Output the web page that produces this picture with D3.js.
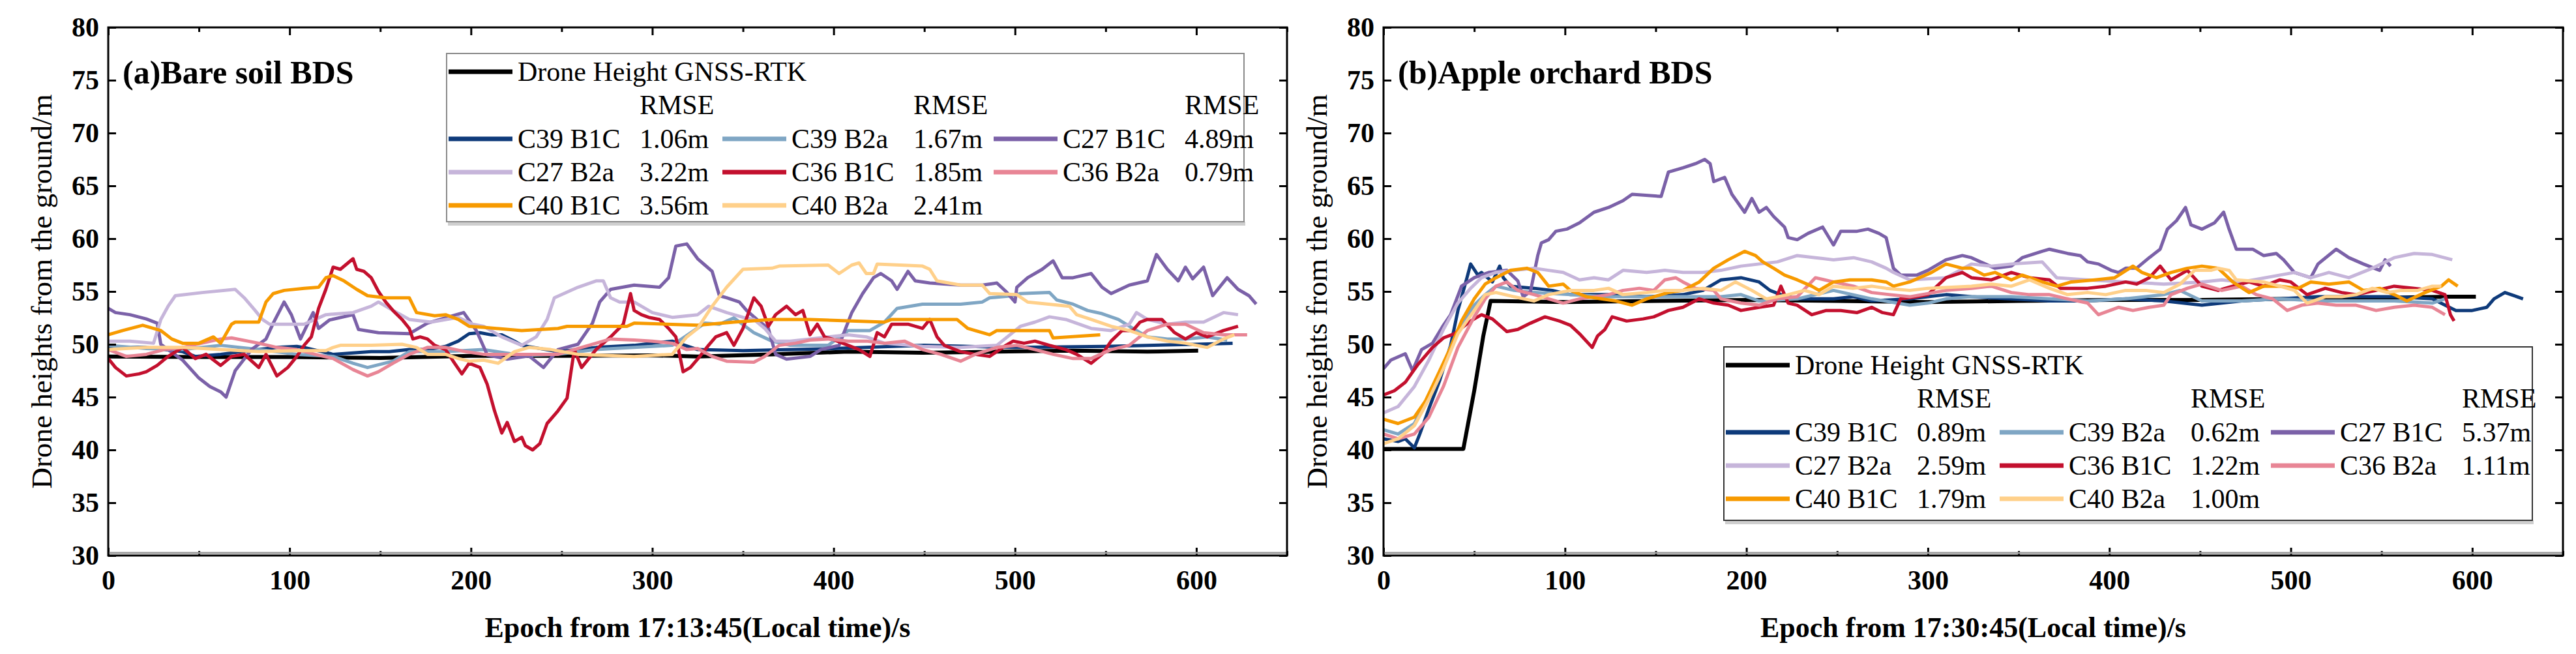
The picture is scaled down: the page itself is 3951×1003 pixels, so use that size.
<!DOCTYPE html>
<html>
<head>
<meta charset="utf-8">
<script src="https://cdn.jsdelivr.net/npm/d3@7"></script>
<style>
  html, body { margin: 0; padding: 0; background: #fff; }
  svg { display: block; }
  text { font-family: "Liberation Serif", "Times New Roman", serif; }
</style>
</head>
<body>
<div id="chart"></div>
<script>
// -------------------------------
// Data
// -------------------------------
const seriesNames = ['C39 B1C', 'C39 B2a', 'C27 B1C', 'C27 B2a', 'C36 B1C', 'C36 B2a', 'C40 B1C', 'C40 B2a'];
const droneName = 'Drone Height GNSS-RTK';
const soilRmse = ['1.06m', '1.67m', '4.89m', '3.22m', '1.85m', '0.79m', '3.56m', '2.41m'];
const orchardRmse = ['0.89m', '0.62m', '5.37m', '2.59m', '1.22m', '1.11m', '1.79m', '1.00m'];
const xTicks = [0, 100, 200, 300, 400, 500, 600];
const xMinorTicks = [50, 150, 250, 350, 450, 550, 650];
const yTicks = [30, 35, 40, 45, 50, 55, 60, 65, 70, 75, 80];

// (a) Bare soil: [epoch, height]
const soilDrone = [[0,48.85],[50,48.8],[100,48.8],[150,48.7],[200,48.9],[250,48.9],[300,48.95],[325,48.85],[366,49.05],[408,49.3],[449,49.2],[490,49.3],[532,49.4],[573,49.3],[601,49.4]];
const soilC39B1C = [[0,49.6],[10,49.7],[21,49.7],[41,49.3],[48,48.85],[62,49.05],[83,49.5],[93,49.7],[104,49.8],[108,49.7],[124,49.05],[145,49.3],[155,49.3],[166,49.5],[176,49.5],[186,49.8],[193,50.3],[199,51.0],[205,51.1],[211,50.9],[217,50.9],[224,50.3],[228,49.9],[248,49.3],[269,49.7],[290,49.9],[311,50.3],[325,49.5],[350,49.4],[400,49.6],[450,49.9],[500,49.7],[550,49.8],[600,50.0],[620,50.1]];
const soilC39B2a = [[0,49.9],[21,49.6],[41,49.5],[62,49.9],[83,49.5],[104,49.05],[124,48.85],[135,48.2],[143,47.8],[157,48.4],[166,49.3],[186,49.3],[207,49.5],[228,48.95],[248,49.05],[269,49.5],[290,49.7],[311,49.9],[329,52.0],[337,51.9],[345,52.5],[356,51.1],[366,50.3],[376,49.9],[397,49.9],[408,51.3],[420,51.3],[428,52.1],[435,53.4],[449,53.8],[470,53.8],[482,54.0],[486,54.4],[499,54.6],[503,54.8],[519,54.9],[523,54.2],[532,53.8],[540,53.2],[548,52.9],[557,52.35],[565,51.5],[573,50.7],[584,50.5],[594,50.5],[606,50.7],[617,50.4]];
const soilC27B1C = [[0,53.4],[4,53.0],[12,52.8],[21,52.4],[27,52.0],[29,50.0],[41,48.5],[50,46.8],[56,46.0],[62,45.5],[65,45.0],[70,47.5],[79,49.5],[87,50.5],[91,52.0],[97,54.0],[101,52.8],[106,50.5],[113,53.0],[116,51.5],[122,52.3],[135,52.8],[138,51.4],[149,51.1],[166,51.0],[176,52.0],[186,52.5],[196,53.0],[203,51.3],[209,49.0],[220,48.6],[232,48.9],[240,47.8],[248,49.5],[259,50.0],[267,52.0],[271,54.0],[277,55.2],[290,55.6],[304,55.4],[309,56.3],[313,59.3],[319,59.5],[325,58.1],[329,57.5],[333,56.9],[337,54.6],[341,54.4],[348,54.0],[352,53.2],[358,52.3],[364,51.5],[368,49.05],[374,48.6],[387,48.85],[393,49.5],[403,49.9],[410,53.0],[416,54.8],[422,56.3],[426,56.7],[432,56.0],[435,55.2],[441,56.9],[445,56.0],[453,55.8],[470,55.6],[482,55.6],[490,55.8],[495,55.0],[500,54.0],[501,55.4],[507,56.3],[515,57.1],[521,57.9],[526,56.3],[532,56.3],[542,56.7],[548,55.4],[553,54.8],[563,55.6],[573,56.0],[578,58.5],[584,57.1],[590,56.0],[594,57.3],[598,56.2],[604,57.3],[609,54.6],[617,56.3],[623,55.2],[629,54.6],[633,53.8]];
const soilC27B2a = [[0,50.3],[12,50.3],[25,50.1],[29,52.35],[33,53.6],[37,54.6],[52,54.9],[70,55.2],[75,54.4],[81,53.2],[85,52.35],[89,51.9],[108,51.9],[120,52.8],[135,53.0],[145,53.6],[149,54.0],[155,53.4],[166,52.35],[178,52.1],[193,52.55],[201,51.9],[207,51.7],[217,50.7],[228,49.9],[236,50.7],[242,52.35],[246,54.4],[259,55.4],[269,56.0],[273,56.0],[277,54.4],[282,54.0],[290,54.0],[300,53.0],[311,52.55],[325,52.8],[331,53.6],[341,53.0],[350,52.55],[356,52.35],[362,51.5],[368,50.3],[376,50.3],[387,50.5],[397,50.7],[408,50.9],[418,50.7],[428,50.1],[449,49.8],[470,49.7],[490,49.9],[503,51.7],[511,52.1],[519,52.6],[528,52.35],[542,51.5],[553,51.3],[563,51.9],[567,53.0],[573,52.35],[584,51.9],[594,52.1],[604,52.1],[615,53.0],[623,52.8]];
const soilC36B1C = [[0,48.65],[4,47.8],[10,47.0],[17,47.2],[21,47.4],[27,48.0],[33,48.85],[41,49.7],[48,48.65],[54,49.05],[62,48.0],[68,48.85],[75,49.05],[83,47.8],[87,49.05],[93,47.0],[99,47.8],[104,48.85],[108,49.9],[112,50.7],[116,53.4],[120,55.2],[124,57.3],[128,57.1],[135,58.1],[137,57.1],[141,56.9],[145,56.3],[149,55.0],[153,54.0],[157,53.2],[162,52.35],[166,51.5],[168,50.5],[172,50.7],[176,50.5],[180,49.9],[186,49.5],[191,48.2],[195,47.2],[199,48.2],[205,47.8],[209,46.2],[213,43.7],[217,41.6],[220,42.6],[224,40.8],[228,41.2],[230,40.4],[234,40.0],[238,40.6],[242,42.5],[248,43.7],[253,44.9],[257,49.5],[261,47.8],[265,48.65],[269,49.5],[277,50.7],[284,51.9],[288,54.8],[290,53.2],[294,52.8],[298,52.55],[304,52.35],[309,51.5],[313,50.7],[317,47.4],[321,47.8],[325,48.6],[331,49.9],[335,50.7],[341,51.1],[345,49.9],[350,51.5],[356,54.4],[360,53.6],[364,51.7],[368,52.8],[374,53.6],[379,52.8],[383,53.2],[387,50.9],[391,51.9],[395,50.7],[399,50.5],[408,49.9],[414,49.5],[420,48.85],[424,51.1],[428,50.7],[432,51.9],[441,51.9],[449,51.5],[453,52.35],[457,50.7],[461,49.9],[470,49.3],[478,49.05],[486,48.85],[495,49.9],[499,50.3],[505,50.1],[511,50.3],[519,49.9],[528,49.5],[534,49.05],[542,48.2],[548,49.05],[553,50.3],[559,51.3],[565,51.3],[569,52.1],[573,52.35],[581,52.35],[588,51.1],[594,50.5],[600,51.1],[606,50.7],[615,51.3],[623,51.7]];
const soilC36B2a = [[0,49.5],[10,48.85],[21,49.05],[31,49.5],[41,49.7],[62,50.5],[68,50.6],[83,50.1],[93,49.7],[104,49.5],[114,49.05],[124,48.65],[135,47.6],[143,47.0],[149,47.4],[157,48.2],[166,49.05],[176,49.7],[186,49.7],[197,49.3],[207,49.05],[228,49.05],[248,49.05],[265,49.9],[277,50.5],[290,50.4],[300,50.3],[311,50.1],[319,49.5],[325,49.6],[333,48.85],[341,48.4],[356,48.3],[362,48.85],[370,49.9],[379,50.1],[387,50.4],[397,50.5],[408,50.3],[418,50.3],[428,50.1],[439,50.3],[449,49.5],[459,49.05],[470,48.4],[478,49.05],[490,49.7],[501,49.9],[511,49.5],[521,49.05],[532,48.65],[542,48.65],[553,49.5],[563,49.9],[573,51.3],[584,51.9],[594,51.9],[604,51.1],[615,50.9],[628,50.9]];
const soilC40B1C = [[0,50.9],[8,51.3],[19,51.8],[29,51.3],[35,50.5],[41,50.1],[50,50.1],[58,50.7],[62,50.1],[68,51.9],[70,52.1],[83,52.1],[87,54.0],[91,54.8],[97,55.1],[108,55.3],[116,55.4],[120,56.3],[124,56.5],[130,56.0],[137,55.2],[143,54.6],[153,54.4],[166,54.4],[170,53.0],[180,52.7],[186,52.8],[193,52.35],[199,51.7],[207,51.6],[228,51.3],[248,51.5],[253,51.7],[269,51.7],[286,51.7],[290,52.0],[325,51.8],[345,52.1],[366,52.35],[387,52.35],[428,52.1],[432,52.35],[468,52.35],[474,51.5],[486,50.9],[490,51.3],[519,51.3],[521,50.6],[547,50.9]];
const soilC40B2a = [[0,49.5],[21,49.7],[41,49.7],[62,49.5],[83,49.3],[104,49.4],[120,49.4],[124,49.7],[128,49.9],[145,49.9],[162,50.0],[170,49.7],[176,49.05],[186,49.05],[193,48.65],[199,48.4],[207,48.5],[215,48.2],[224,49.3],[232,49.7],[244,49.5],[259,49.05],[290,48.85],[311,49.05],[319,50.7],[325,51.5],[333,53.6],[341,55.4],[350,57.1],[366,57.2],[370,57.4],[397,57.5],[403,56.7],[410,57.5],[414,57.7],[418,56.7],[422,56.7],[424,57.6],[449,57.4],[453,57.1],[457,56.0],[470,55.6],[482,55.6],[486,54.8],[501,54.7],[507,54.0],[530,53.6],[534,52.8],[542,52.35],[553,51.7],[563,51.3],[573,50.7],[584,50.3],[594,50.1],[606,49.7],[615,50.5],[621,50.9]];

// (b) Apple orchard: [epoch, height]
const orchardDrone = [[0,40.1],[44,40.1],[50,45.6],[55,50.8],[59,54.1],[100,54.0],[150,54.1],[200,54.2],[250,54.1],[300,54.0],[350,54.1],[400,54.2],[450,54.2],[500,54.3],[550,54.4],[587,54.5],[602,54.5]];
const orchardC39B1C = [[0,41.05],[8,40.8],[12,41.05],[17,40.2],[20,41.5],[25,43.9],[31,46.6],[37,49.9],[41,53.2],[46,56.3],[48,57.6],[52,56.55],[54,56.8],[60,55.9],[64,57.4],[66,56.3],[70,55.5],[83,55.3],[93,55.1],[103,54.7],[124,54.7],[145,54.5],[165,54.7],[176,55.1],[186,56.1],[197,56.3],[207,55.9],[213,55.1],[219,54.7],[228,54.3],[248,54.3],[259,54.5],[269,54.1],[290,54.3],[310,54.7],[324,54.5],[367,54.1],[388,54.1],[409,54.3],[430,54.1],[451,53.7],[473,54.1],[494,54.3],[515,54.5],[536,54.5],[557,54.5],[578,54.3],[591,53.2],[600,53.2],[608,53.5],[612,54.3],[618,54.9],[623,54.6],[628,54.3]];
const orchardC39B2a = [[0,41.9],[8,41.5],[17,42.5],[25,45.2],[33,48.1],[41,51.4],[50,53.7],[56,54.7],[62,55.5],[72,55.1],[83,54.9],[103,54.7],[124,54.5],[145,54.5],[165,54.5],[186,54.5],[197,54.7],[207,54.1],[228,54.3],[248,55.1],[269,54.3],[290,53.7],[300,53.9],[310,54.3],[324,54.5],[346,54.5],[367,54.3],[388,54.1],[409,54.3],[430,54.7],[439,55.1],[451,54.1],[473,54.1],[494,54.3],[515,54.1],[536,54.1],[557,54.1],[578,53.9],[585,54.3]];
const orchardC27B1C = [[0,47.7],[4,48.5],[12,49.1],[16,47.5],[21,49.5],[27,50.1],[33,51.8],[37,52.8],[43,55.5],[50,56.3],[58,56.8],[68,57.0],[74,56.0],[77,54.5],[81,55.0],[85,58.4],[87,59.6],[91,59.9],[95,60.7],[101,60.9],[108,61.5],[116,62.5],[124,62.95],[132,63.6],[137,64.2],[153,64.0],[157,66.3],[165,66.7],[172,67.1],[177,67.5],[180,67.1],[182,65.4],[188,65.8],[192,64.2],[199,62.5],[203,63.8],[207,62.5],[211,62.95],[215,62.1],[221,61.1],[223,60.1],[228,59.9],[234,60.5],[242,61.1],[248,59.4],[252,60.7],[261,60.7],[267,60.9],[273,60.5],[277,60.1],[281,57.2],[285,56.55],[294,56.55],[300,57.0],[310,58.0],[319,58.4],[324,58.2],[329,57.8],[337,57.2],[346,57.4],[352,58.2],[363,58.8],[367,59.0],[377,58.6],[384,58.4],[388,57.8],[394,57.6],[401,57.0],[405,56.8],[409,57.2],[415,57.2],[422,58.2],[428,59.0],[432,60.9],[437,61.7],[442,62.95],[445,61.3],[451,60.9],[458,61.5],[463,62.5],[466,60.9],[470,59.0],[479,59.0],[485,58.4],[492,58.6],[496,58.0],[502,56.8],[511,56.3],[515,57.6],[525,59.0],[532,58.2],[540,57.6],[549,57.0],[552,58.0],[555,57.4]];
const orchardC27B2a = [[0,43.5],[8,44.1],[17,46.0],[25,48.5],[33,51.4],[41,53.9],[48,55.3],[54,56.3],[62,56.8],[83,57.2],[91,57.0],[99,56.8],[108,56.1],[116,56.3],[124,56.1],[132,57.0],[145,56.8],[155,57.0],[165,56.8],[176,56.8],[186,57.0],[197,57.4],[207,57.6],[217,57.8],[228,58.4],[238,58.2],[248,58.0],[259,58.2],[269,57.8],[277,57.2],[281,56.8],[290,56.1],[310,56.3],[324,57.6],[335,57.4],[346,57.6],[363,57.8],[371,56.3],[388,56.1],[409,55.9],[430,55.7],[451,55.9],[462,56.1],[473,55.9],[494,56.55],[502,56.8],[511,56.3],[521,56.8],[532,56.3],[545,57.2],[557,58.2],[568,58.6],[578,58.5],[589,58.0]];
const orchardC36B1C = [[0,45.2],[6,45.6],[12,46.4],[19,48.1],[27,49.7],[33,50.6],[39,51.0],[48,52.2],[54,52.8],[60,52.4],[64,51.8],[68,51.2],[74,51.4],[81,52.0],[89,52.6],[97,52.2],[103,51.8],[108,51.0],[115,49.7],[118,50.8],[122,51.4],[126,52.6],[134,52.2],[143,52.4],[149,52.6],[157,53.2],[165,53.5],[174,54.3],[182,53.9],[190,53.7],[197,53.2],[207,53.5],[215,53.7],[219,55.5],[223,53.9],[228,53.7],[236,52.8],[244,53.2],[252,53.2],[261,53.0],[269,53.5],[275,53.0],[281,52.8],[285,54.3],[294,54.5],[300,54.7],[310,56.3],[319,56.8],[324,56.3],[335,56.1],[346,56.8],[356,56.3],[367,56.1],[373,55.3],[388,55.3],[398,55.5],[409,55.9],[415,55.7],[422,56.3],[428,57.4],[434,56.1],[443,57.0],[451,55.5],[460,55.1],[468,55.5],[477,55.9],[485,55.5],[494,56.1],[500,55.9],[509,54.7],[519,55.3],[528,54.9],[536,54.7],[547,55.1],[557,55.5],[568,55.3],[578,55.1],[585,54.7],[588,52.8],[590,52.2]];
const orchardC36B2a = [[0,41.5],[8,41.05],[17,41.5],[25,43.1],[33,46.0],[41,49.7],[50,52.6],[56,54.3],[62,55.5],[68,55.9],[74,55.1],[83,54.7],[91,54.3],[99,53.9],[108,54.3],[116,54.5],[124,54.7],[132,55.1],[141,55.3],[149,55.1],[155,56.1],[161,56.3],[165,55.9],[172,55.3],[182,55.1],[186,54.3],[197,53.9],[207,53.7],[217,54.3],[228,54.5],[238,56.3],[248,55.9],[259,55.5],[269,54.9],[279,54.7],[290,54.5],[310,55.1],[324,55.3],[335,55.5],[346,54.9],[356,54.7],[367,54.7],[377,54.3],[388,53.9],[394,52.8],[405,53.5],[413,53.2],[422,53.5],[430,53.7],[434,54.7],[443,55.3],[451,55.7],[462,55.1],[473,55.5],[481,54.7],[490,54.3],[498,53.2],[506,53.7],[515,53.9],[525,53.7],[536,53.7],[547,53.2],[557,53.5],[568,53.7],[578,53.5],[585,52.8]];
const orchardC40B1C = [[0,42.9],[8,42.5],[17,43.1],[23,44.6],[31,47.5],[37,49.7],[43,52.2],[50,54.3],[56,55.7],[62,56.3],[70,57.0],[79,57.2],[85,56.8],[91,55.5],[99,55.7],[103,55.1],[112,54.5],[120,54.3],[128,54.1],[137,53.7],[145,54.3],[157,54.9],[165,55.1],[174,55.9],[182,57.2],[190,58.0],[199,58.8],[205,58.4],[209,57.8],[215,57.2],[221,56.55],[228,56.1],[236,55.5],[240,55.1],[248,55.9],[257,56.1],[269,56.1],[277,55.9],[281,55.5],[290,55.9],[302,56.8],[310,57.6],[319,57.2],[324,57.2],[331,56.55],[337,56.8],[346,56.1],[352,56.55],[363,55.9],[371,55.5],[379,55.9],[392,56.1],[403,56.3],[413,57.4],[418,56.8],[426,56.3],[434,56.8],[443,57.2],[451,57.4],[460,57.2],[468,55.9],[477,54.9],[485,55.5],[494,55.5],[504,55.3],[511,55.9],[521,55.7],[532,55.9],[540,55.1],[549,55.3],[557,54.7],[564,54.1],[574,54.9],[583,55.5],[587,56.1],[592,55.5]];
const orchardC40B2a = [[0,40.6],[8,41.05],[17,42.3],[25,44.8],[33,47.7],[41,51.0],[50,53.2],[56,54.7],[62,54.9],[72,54.5],[83,54.1],[91,54.7],[103,55.1],[116,55.1],[124,55.3],[132,54.7],[145,54.9],[155,55.1],[165,55.1],[176,55.3],[186,55.1],[194,55.9],[203,55.1],[211,54.3],[223,54.7],[232,55.1],[240,54.7],[248,55.5],[259,55.3],[269,55.5],[277,55.3],[290,55.1],[300,55.3],[324,55.5],[335,55.7],[346,55.5],[356,56.1],[367,55.3],[377,54.7],[388,54.9],[398,54.7],[409,55.1],[420,55.1],[430,54.9],[439,55.7],[447,57.0],[456,57.0],[460,57.2],[466,57.0],[470,56.1],[485,55.9],[494,55.5],[502,55.1],[509,53.9],[519,54.5],[528,54.5],[536,54.7],[545,55.3],[553,54.9],[561,55.1],[570,55.1],[578,55.5],[583,55.5]];

// -------------------------------
// Styles
// -------------------------------
const seriesColors = ['#0e3a7a', '#7fa6c4', '#7b61a8', '#c6b5da', '#c3102e', '#e88595', '#f79a00', '#ffd08a'];
const W = 3951, H = 1003;
const plotTop = 42, plotBottom = 852;

const panels = [
  {
    left: 166, right: 1974, title: '(a)Bare soil BDS', xTitle: 'Epoch from 17:13:45(Local time)/s',
    drone: soilDrone,
    series: [soilC39B1C, soilC39B2a, soilC27B1C, soilC27B2a, soilC36B1C, soilC36B2a, soilC40B1C, soilC40B2a],
    rmse: soilRmse,
    legend: { x: 685, y: 82, w: 1223, h: 258, border: '#8a8a8a' }
  },
  {
    left: 2122, right: 3931, title: '(b)Apple orchard BDS', xTitle: 'Epoch from 17:30:45(Local time)/s',
    drone: orchardDrone,
    series: [orchardC39B1C, orchardC39B2a, orchardC27B1C, orchardC27B2a, orchardC36B1C, orchardC36B2a, orchardC40B1C, orchardC40B2a],
    rmse: orchardRmse,
    legend: { x: 2644, y: 532, w: 1240, h: 266, border: '#333' }
  }
];

const svg = d3.select('#chart').append('svg')
  .attr('width', W)
  .attr('height', H);

panels.forEach((p, pi) => {
  const x = d3.scaleLinear().domain([0, 650]).range([p.left, p.right]);
  const y = d3.scaleLinear().domain([30, 80]).range([plotBottom, plotTop]);
  const g = svg.append('g');

  const clipId = 'clip' + pi;
  svg.append('clipPath').attr('id', clipId)
    .append('rect')
      .attr('x', p.left).attr('y', plotTop)
      .attr('width', p.right - p.left).attr('height', plotBottom - plotTop);

  // --------------------
  // Lines
  // --------------------
  const line = d3.line().x(d => x(d[0])).y(d => y(d[1]));
  const lines = g.append('g').attr('clip-path', `url(#${clipId})`);

  lines.append('path')
    .datum(p.drone)
    .attr('d', line)
    .attr('fill', 'none')
    .attr('stroke', '#000')
    .attr('stroke-width', 6)
    .attr('stroke-linejoin', 'round');

  p.series.forEach((s, i) => {
    lines.append('path')
      .datum(s)
      .attr('d', line)
      .attr('fill', 'none')
      .attr('stroke', seriesColors[i])
      .attr('stroke-width', 5)
      .attr('stroke-linejoin', 'round');
  });

  // --------------------
  // Axes (ticks inside)
  // --------------------
  const tickFont = g2 => g2.selectAll('text')
    .style('font-family', '"Liberation Serif", serif')
    .style('font-size', '42px')
    .style('font-weight', 'bold')
    .attr('fill', '#000');

  const xAxis = g.append('g')
    .attr('transform', `translate(0,${plotBottom})`)
    .call(d3.axisBottom(x).tickValues(xTicks).tickSize(-12).tickPadding(22).tickFormat(d3.format('d')));
  xAxis.call(tickFont);
  xAxis.select('.domain').remove();
  xAxis.selectAll('line').attr('stroke-width', 3);

  g.append('g')
    .attr('transform', `translate(0,${plotBottom})`)
    .call(d3.axisBottom(x).tickValues(xMinorTicks).tickSize(-7).tickFormat(''))
    .call(a => a.select('.domain').remove())
    .selectAll('line').attr('stroke-width', 3);

  g.append('g')
    .attr('transform', `translate(0,${plotTop})`)
    .call(d3.axisTop(x).tickValues(xTicks).tickSize(-12).tickFormat(''))
    .call(a => a.select('.domain').remove())
    .selectAll('line').attr('stroke-width', 3);

  g.append('g')
    .attr('transform', `translate(0,${plotTop})`)
    .call(d3.axisTop(x).tickValues(xMinorTicks).tickSize(-7).tickFormat(''))
    .call(a => a.select('.domain').remove())
    .selectAll('line').attr('stroke-width', 3);

  const yAxis = g.append('g')
    .attr('transform', `translate(${p.left},0)`)
    .call(d3.axisLeft(y).tickValues(yTicks).tickSize(-12).tickPadding(14));
  yAxis.call(tickFont);
  yAxis.select('.domain').remove();
  yAxis.selectAll('line').attr('stroke-width', 3);

  g.append('g')
    .attr('transform', `translate(${p.right},0)`)
    .call(d3.axisRight(y).tickValues(yTicks).tickSize(-12).tickFormat(''))
    .call(a => a.select('.domain').remove())
    .selectAll('line').attr('stroke-width', 3);

  // frame with a light shadow under the bottom axis
  g.append('line')
    .attr('x1', p.left).attr('x2', p.right)
    .attr('y1', plotBottom - 4).attr('y2', plotBottom - 4)
    .attr('stroke', '#9a9a9a').attr('stroke-width', 3);
  g.append('rect')
    .attr('x', p.left).attr('y', plotTop)
    .attr('width', p.right - p.left).attr('height', plotBottom - plotTop)
    .attr('fill', 'none')
    .attr('stroke', '#000')
    .attr('stroke-width', 3);

  // --------------------
  // Titles
  // --------------------
  g.append('text')
    .attr('x', p.left + 22).attr('y', 128)
    .style('font-size', '50px').style('font-weight', 'bold')
    .text(p.title);

  g.append('text')
    .attr('x', (p.left + p.right) / 2).attr('y', 977)
    .attr('text-anchor', 'middle')
    .style('font-size', '44px').style('font-weight', 'bold')
    .text(p.xTitle);

  g.append('text')
    .attr('transform', `translate(${p.left - 87},${(plotTop + plotBottom) / 2}) rotate(-90)`)
    .attr('text-anchor', 'middle')
    .style('font-size', '45px')
    .text('Drone heights from the ground/m');

  // --------------------
  // Legend
  // --------------------
  const L = p.legend;
  const lg = g.append('g').attr('transform', `translate(${L.x},${L.y})`);
  lg.append('rect')
    .attr('x', 2).attr('y', L.h).attr('width', L.w).attr('height', 6)
    .attr('fill', '#cfcfcf');
  lg.append('rect')
    .attr('width', L.w).attr('height', L.h)
    .attr('fill', '#fff')
    .attr('stroke', L.border)
    .attr('stroke-width', 2);

  const rowY = [28, 79, 131, 182, 233];
  const colX = [0, 420, 836];
  const fs = '42px';

  lg.append('line')
    .attr('x1', 3).attr('x2', 101)
    .attr('y1', rowY[0]).attr('y2', rowY[0])
    .attr('stroke', '#000').attr('stroke-width', 7);
  lg.append('text')
    .attr('x', 109).attr('y', rowY[0] + 14)
    .style('font-size', fs)
    .text(droneName);

  colX.forEach(cx => {
    lg.append('text')
      .attr('x', cx + 296).attr('y', rowY[1] + 14)
      .style('font-size', fs)
      .text('RMSE');
  });

  seriesNames.forEach((name, i) => {
    const cx = colX[i % 3];
    const ry = rowY[2 + Math.floor(i / 3)];
    lg.append('line')
      .attr('x1', cx + 3).attr('x2', cx + 101)
      .attr('y1', ry).attr('y2', ry)
      .attr('stroke', seriesColors[i]).attr('stroke-width', 7);
    lg.append('text')
      .attr('x', cx + 109).attr('y', ry + 14)
      .style('font-size', fs)
      .text(name);
    lg.append('text')
      .attr('x', cx + 296).attr('y', ry + 14)
      .style('font-size', fs)
      .text(p.rmse[i]);
  });
});
</script>
</body>
</html>
